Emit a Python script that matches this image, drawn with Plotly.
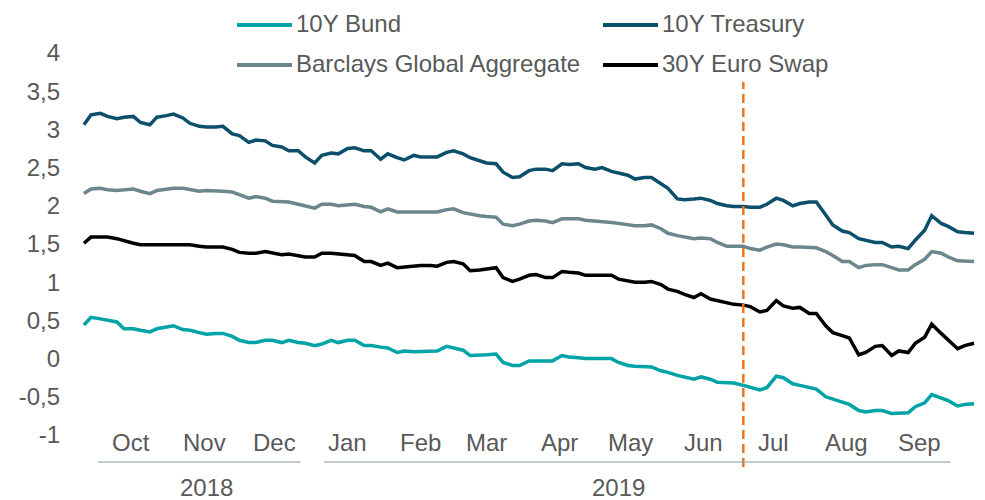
import pandas as pd
import plotly.graph_objects as go

# observation dates (twice a week: Tuesdays and Fridays)
tuesdays = pd.date_range("2018-09-25", periods=55, freq="7D")
fridays = pd.date_range("2018-09-28", periods=54, freq="7D")
dates = tuesdays.append(fridays).sort_values()

bund_10y = [
    0.44, 0.54, 0.52, 0.50, 0.48, 0.39, 0.39, 0.37, 0.35, 0.39,
    0.41, 0.43, 0.38, 0.37, 0.34, 0.32, 0.33, 0.33, 0.29, 0.24,
    0.21, 0.21, 0.24, 0.24, 0.21, 0.24, 0.21, 0.20, 0.17, 0.19,
    0.24, 0.21, 0.24, 0.24, 0.17, 0.17, 0.15, 0.14, 0.08, 0.10,
    0.09, 0.09, 0.09, 0.10, 0.16, 0.14, 0.11, 0.04, 0.04, 0.05,
    0.06, -0.05, -0.09, -0.09, -0.03, -0.03, -0.03, -0.03, 0.04, 0.02,
    0.01, 0.00, 0.00, 0.00, 0.00, -0.05, -0.09, -0.10, -0.11, -0.11,
    -0.16, -0.18, -0.22, -0.24, -0.27, -0.24, -0.27, -0.31, -0.32, -0.32,
    -0.35, -0.38, -0.41, -0.38, -0.23, -0.25, -0.33, -0.35, -0.38, -0.40,
    -0.50, -0.53, -0.58, -0.60, -0.68, -0.70, -0.68, -0.68, -0.72, -0.72,
    -0.71, -0.63, -0.58, -0.47, -0.52, -0.55, -0.62, -0.60, -0.59]

treasury_10y = [
    3.06, 3.19, 3.21, 3.17, 3.14, 3.16, 3.17, 3.09, 3.06, 3.16,
    3.18, 3.20, 3.15, 3.08, 3.04, 3.03, 3.03, 3.04, 2.94, 2.92,
    2.83, 2.86, 2.85, 2.79, 2.77, 2.72, 2.72, 2.64, 2.56, 2.66,
    2.69, 2.68, 2.75, 2.76, 2.72, 2.72, 2.61, 2.68, 2.63, 2.60,
    2.66, 2.64, 2.64, 2.64, 2.70, 2.72, 2.68, 2.63, 2.59, 2.56,
    2.55, 2.44, 2.37, 2.38, 2.46, 2.48, 2.48, 2.46, 2.55, 2.54,
    2.55, 2.50, 2.48, 2.50, 2.45, 2.43, 2.40, 2.35, 2.37, 2.37,
    2.29, 2.23, 2.09, 2.08, 2.09, 2.10, 2.07, 2.03, 2.00, 1.99,
    1.99, 1.98, 1.98, 2.02, 2.10, 2.07, 2.00, 2.03, 2.05, 2.05,
    1.88, 1.75, 1.67, 1.65, 1.57, 1.55, 1.52, 1.52, 1.46, 1.47,
    1.44, 1.55, 1.68, 1.87, 1.77, 1.73, 1.66, 1.65, 1.64]

barclays_global_agg = [
    2.16, 2.22, 2.23, 2.21, 2.20, 2.21, 2.22, 2.19, 2.16, 2.20,
    2.22, 2.23, 2.23, 2.21, 2.19, 2.20, 2.20, 2.19, 2.18, 2.15,
    2.10, 2.12, 2.10, 2.06, 2.05, 2.05, 2.02, 2.00, 1.97, 2.02,
    2.02, 2.00, 2.01, 2.02, 1.99, 1.98, 1.92, 1.96, 1.92, 1.92,
    1.92, 1.92, 1.91, 1.92, 1.95, 1.96, 1.91, 1.89, 1.87, 1.86,
    1.85, 1.76, 1.74, 1.76, 1.80, 1.81, 1.80, 1.78, 1.83, 1.83,
    1.83, 1.81, 1.80, 1.80, 1.78, 1.77, 1.75, 1.74, 1.74, 1.75,
    1.70, 1.64, 1.61, 1.59, 1.57, 1.58, 1.57, 1.52, 1.47, 1.47,
    1.47, 1.44, 1.42, 1.46, 1.50, 1.49, 1.46, 1.46, 1.46, 1.45,
    1.40, 1.35, 1.27, 1.27, 1.19, 1.22, 1.23, 1.23, 1.19, 1.16,
    1.16, 1.23, 1.30, 1.40, 1.38, 1.33, 1.28, 1.28, 1.27]

euro_swap_30y = [
    1.51, 1.59, 1.59, 1.59, 1.57, 1.54, 1.51, 1.49, 1.49, 1.50,
    1.50, 1.50, 1.50, 1.49, 1.47, 1.46, 1.46, 1.46, 1.43, 1.39,
    1.38, 1.38, 1.40, 1.38, 1.36, 1.37, 1.35, 1.33, 1.33, 1.38,
    1.38, 1.37, 1.36, 1.35, 1.27, 1.27, 1.22, 1.25, 1.19, 1.20,
    1.22, 1.22, 1.22, 1.21, 1.26, 1.27, 1.24, 1.15, 1.16, 1.17,
    1.19, 1.06, 1.01, 1.04, 1.09, 1.10, 1.06, 1.06, 1.14, 1.13,
    1.12, 1.09, 1.09, 1.09, 1.09, 1.04, 1.02, 1.00, 1.00, 1.01,
    0.97, 0.91, 0.88, 0.84, 0.80, 0.85, 0.78, 0.76, 0.74, 0.71,
    0.70, 0.68, 0.61, 0.63, 0.76, 0.69, 0.66, 0.67, 0.59, 0.59,
    0.43, 0.34, 0.30, 0.27, 0.05, 0.08, 0.16, 0.17, 0.04, 0.10,
    0.08, 0.20, 0.28, 0.45, 0.33, 0.25, 0.13, 0.17, 0.20]

series_names = ["10Y Bund", "10Y Treasury", "Barclays Global Aggregate", "30Y Euro Swap"]

y_tickvals = [-1, -0.5, 0, 0.5, 1, 1.5, 2, 2.5, 3, 3.5, 4]
y_ticktext = ["-1", "-0,5", "0", "0,5", "1", "1,5", "2", "2,5", "3", "3,5", "4"]

month_dates = ["2018-10-15", "2018-11-15", "2018-12-15", "2019-01-15", "2019-02-15",
               "2019-03-15", "2019-04-15", "2019-05-15", "2019-06-15", "2019-07-15",
               "2019-08-15", "2019-09-15"]
month_labels = ["Oct", "Nov", "Dec", "Jan", "Feb", "Mar", "Apr", "May", "Jun",
                "Jul", "Aug", "Sep"]

year_labels = ["2018", "2019"]
year_label_dates = ["2018-11-16", "2019-05-10"]
year_spans = [("2018-10-01", "2018-12-26"), ("2019-01-05", "2019-09-28")]

marker_date = "2019-07-02"

TXT = "#595959"
FONT = "Liberation Sans, Arial, sans-serif"
FS = 24
COLORS = {"10Y Bund": "#00A3A6", "10Y Treasury": "#0B4F6C",
          "Barclays Global Aggregate": "#6B868C", "30Y Euro Swap": "#000000"}

W, H = 985, 500
ML, MR, MT, MB = 64, 5, 53, 65
PW, PH = W - ML - MR, H - MT - MB


def px_x(p):  # pixel -> paper x
    return (p - ML) / PW


def px_y(p):  # pixel -> paper y
    return (H - MB - p) / PH


fig = go.Figure()
for name, vals in zip(series_names, [bund_10y, treasury_10y, barclays_global_agg, euro_swap_30y]):
    fig.add_trace(go.Scatter(x=dates, y=vals, name=name, mode="lines",
                             line=dict(color=COLORS[name], width=3.5), showlegend=False))

shapes = [dict(type="line", xref="x", yref="paper", x0=marker_date, x1=marker_date,
               y0=px_y(467), y1=px_y(82), line=dict(color="#E87722", width=2.5, dash="9px,5px"))]
for a, b in year_spans:
    shapes.append(dict(type="line", xref="x", yref="paper", x0=a, x1=b,
                       y0=px_y(462), y1=px_y(462), line=dict(color="#7F9AA6", width=1)))

annotations = []
for d, m in zip(month_dates, month_labels):
    annotations.append(dict(x=d, y=px_y(442.5), xref="x", yref="paper", text=m,
                            showarrow=False, xanchor="center", yanchor="middle",
                            font=dict(size=FS, color=TXT, family=FONT)))
for d, yl in zip(year_label_dates, year_labels):
    annotations.append(dict(x=d, y=px_y(487), xref="x", yref="paper", text=yl,
                            showarrow=False, xanchor="center", yanchor="middle",
                            font=dict(size=FS, color=TXT, family=FONT)))

# legend (2 x 2 grid)
legend_pos = {"10Y Bund": (237, 25), "10Y Treasury": (603, 25),
              "Barclays Global Aggregate": (237, 65), "30Y Euro Swap": (603, 65)}
for name in series_names:
    lx, ly = legend_pos[name]
    shapes.append(dict(type="line", xref="paper", yref="paper",
                       x0=px_x(lx), x1=px_x(lx + 55), y0=px_y(ly), y1=px_y(ly),
                       line=dict(color=COLORS[name], width=4)))
    annotations.append(dict(x=px_x(lx + 57), y=px_y(ly - 1), xref="paper", yref="paper",
                            text=name, showarrow=False, xanchor="left", yanchor="middle",
                            font=dict(size=FS, color=TXT, family=FONT)))

fig.update_layout(
    width=W, height=H,
    margin=dict(l=ML, r=MR, t=MT, b=MB),
    paper_bgcolor="white", plot_bgcolor="white",
    font=dict(family=FONT, size=FS, color=TXT),
    showlegend=False,
    xaxis=dict(type="date", range=["2018-09-16 13:00", "2019-10-10 12:00"],
               showgrid=False, zeroline=False, showline=False,
               showticklabels=False, ticks=""),
    yaxis=dict(range=[-1, 4], tickvals=y_tickvals, ticktext=y_ticktext,
               showgrid=False, zeroline=False, showline=False, ticks="",
               ticklabelstandoff=3,
               tickfont=dict(size=FS, color=TXT, family=FONT)),
    shapes=shapes,
    annotations=annotations,
)

fig.write_html("out.html", config={"displayModeBar": False},
               post_script="document.body.style.margin='0';document.body.style.overflow='hidden';")
